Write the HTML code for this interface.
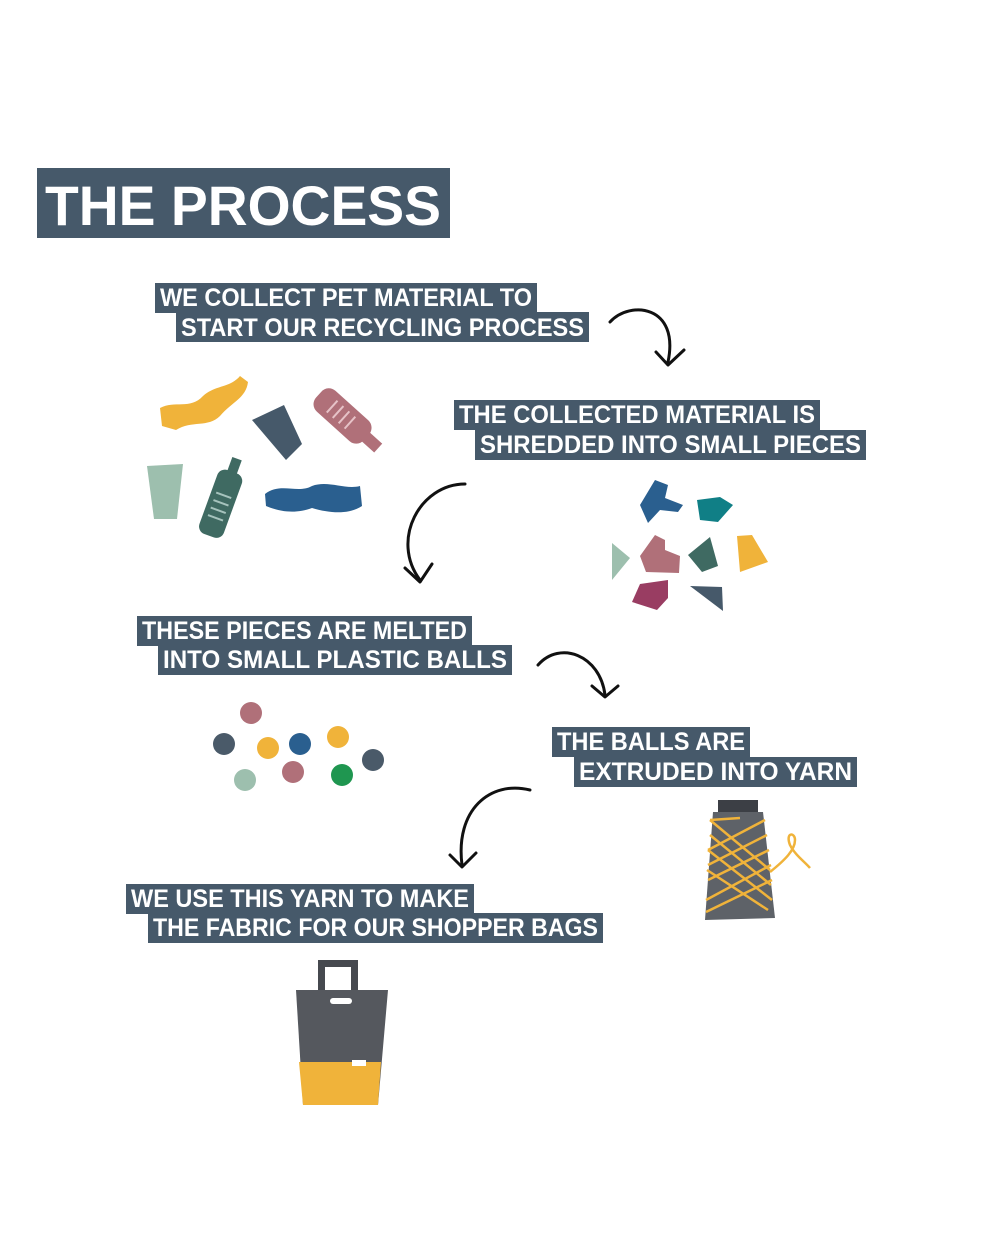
<!DOCTYPE html>
<html><head><meta charset="utf-8"><style>
html,body{margin:0;padding:0;background:#fff}
svg{display:block}
text{font-family:"Liberation Sans Narrow","Liberation Sans",sans-serif;font-weight:bold;fill:#fff}
</style></head><body>
<svg width="1000" height="1250" viewBox="0 0 1000 1250" xmlns="http://www.w3.org/2000/svg">
<g fill="#46596a">
<rect x="37" y="168" width="413" height="70"/>
<rect x="155" y="283" width="382" height="30"/><rect x="176" y="312" width="413" height="30"/>
<rect x="454" y="400" width="366" height="30"/><rect x="475" y="430" width="391" height="30"/>
<rect x="137" y="616" width="335" height="30"/><rect x="158" y="645" width="354" height="30"/>
<rect x="552" y="727" width="198" height="30"/><rect x="574" y="757" width="283" height="30"/>
<rect x="126" y="884" width="348" height="30"/><rect x="148" y="913" width="455" height="30"/>
</g>
<text x="45" y="225" font-size="56" textLength="396" lengthAdjust="spacingAndGlyphs" style="font-family:'Liberation Sans',sans-serif;font-weight:900">THE PROCESS</text>
<g font-size="25">
<text x="160" y="306" textLength="372" lengthAdjust="spacingAndGlyphs">WE COLLECT PET MATERIAL TO</text>
<text x="181" y="336" textLength="403" lengthAdjust="spacingAndGlyphs">START OUR RECYCLING PROCESS</text>
<text x="459" y="423" textLength="356" lengthAdjust="spacingAndGlyphs">THE COLLECTED MATERIAL IS</text>
<text x="480" y="453" textLength="381" lengthAdjust="spacingAndGlyphs">SHREDDED INTO SMALL PIECES</text>
<text x="142" y="639" textLength="325" lengthAdjust="spacingAndGlyphs">THESE PIECES ARE MELTED</text>
<text x="163" y="668" textLength="344" lengthAdjust="spacingAndGlyphs">INTO SMALL PLASTIC BALLS</text>
<text x="557" y="750" textLength="188" lengthAdjust="spacingAndGlyphs">THE BALLS ARE</text>
<text x="579" y="780" textLength="273" lengthAdjust="spacingAndGlyphs">EXTRUDED INTO YARN</text>
<text x="131" y="907" textLength="338" lengthAdjust="spacingAndGlyphs">WE USE THIS YARN TO MAKE</text>
<text x="153" y="936" textLength="445" lengthAdjust="spacingAndGlyphs">THE FABRIC FOR OUR SHOPPER BAGS</text>
</g>
<g fill="none" stroke="#111" stroke-width="3" stroke-linecap="round" stroke-linejoin="round">
<path d="M610 322 C630 300 680 305 668 362"/><path d="M656 352 L668 365 L684 350"/>
<path d="M465 484 C420 484 390 540 420 580"/><path d="M405 568 L420 582 L432 564"/>
<path d="M538 665 C560 640 600 655 605 695"/><path d="M592 686 L605 697 L618 686"/>
<path d="M530 790 C490 780 455 810 462 865"/><path d="M450 855 L462 867 L476 853"/>
</g>
<!-- step1 items -->
<path d="M160 408 C175 400 190 410 203 396 C215 385 230 388 240 376 L248 382 C246 398 232 402 220 416 C208 428 192 420 176 430 L162 426 Z" fill="#f0b33a"/>
<path d="M252 420 L284 405 L302 444 L286 460 Z" fill="#46596a"/>
<g transform="translate(347,420) rotate(42)"><rect x="-38" y="-14" width="64" height="28" rx="10" fill="#b07079"/><rect x="24" y="-6" width="18" height="12" fill="#b07079"/>
<g stroke="#e6c2c7" stroke-width="2"><path d="M-20 -8 V8 M-12 -8 V8 M-4 -8 V8 M4 -8 V8"/></g></g>
<path d="M147 466 L183 464 L177 519 L154 519 Z" fill="#9dbfae"/>
<g transform="translate(222,500) rotate(20)"><rect x="-13" y="-30" width="26" height="68" rx="8" fill="#3f6a62"/><rect x="-5" y="-44" width="10" height="16" fill="#3f6a62"/>
<g stroke="#a6c3bd" stroke-width="2"><path d="M-8 -5 H8 M-8 3 H8 M-8 11 H8 M-8 19 H8"/></g></g>
<path d="M265 494 C280 482 298 494 312 486 C328 480 345 490 360 486 L362 506 C350 514 332 514 312 508 C296 514 280 512 266 506 Z" fill="#2a5f8f"/>
<!-- shreds -->
<polygon points="655,480 668,485 665,498 683,505 678,512 660,510 648,523 640,505" fill="#2a5f8f"/>
<polygon points="697,500 720,497 733,505 718,522 700,520" fill="#107f86"/>
<polygon points="612,543 630,558 612,580" fill="#9dbfae"/>
<polygon points="655,535 665,540 665,550 680,556 679,573 646,572 640,556" fill="#b07079"/>
<polygon points="688,555 710,537 718,566 702,572" fill="#3f6a62"/>
<polygon points="737,536 752,535 768,562 740,572" fill="#f0b33a"/>
<polygon points="640,584 668,580 668,598 657,610 632,602" fill="#993d62"/>
<polygon points="690,586 722,587 723,611" fill="#46596a"/>
<!-- balls -->
<g>
<circle cx="251" cy="713" r="11" fill="#b07079"/><circle cx="224" cy="744" r="11" fill="#4a5a69"/>
<circle cx="268" cy="748" r="11" fill="#f0b33a"/><circle cx="300" cy="744" r="11" fill="#2a5f8f"/>
<circle cx="338" cy="737" r="11" fill="#f0b33a"/><circle cx="373" cy="760" r="11" fill="#4a5a69"/>
<circle cx="245" cy="780" r="11" fill="#9dbfae"/><circle cx="293" cy="772" r="11" fill="#b07079"/>
<circle cx="342" cy="775" r="11" fill="#1f9650"/>
</g>
<!-- spool -->
<rect x="718" y="800" width="40" height="14" fill="#3c3f45"/>
<polygon points="713,812 763,812 775,918 705,920" fill="#5e6268"/>
<g stroke="#f0b33a" stroke-width="2.5" fill="none">
<path d="M708 850 L765 820 M708 865 L767 835 M708 880 L769 850 M706 900 L771 865 M706 912 L772 880"/>
<path d="M710 820 L770 870 M710 835 L771 885 M708 850 L772 900 M710 820 L740 818 M707 870 L768 910"/>
<path d="M770 872 C785 860 795 850 795 840 C795 832 785 832 790 845 C795 855 805 862 810 868"/>
</g>
<!-- bag -->
<path d="M318 992 L318 960 L358 960 L358 992 L351 992 L351 967 L325 967 L325 992 Z" fill="#46494f"/>
<path d="M296 990 L388 990 L378 1105 L303 1105 Z" fill="#55585e"/>
<path d="M299 1062 L381 1062 L378 1105 L303 1105 Z" fill="#f0b33a"/>
<rect x="330" y="998" width="22" height="6" rx="3" fill="#fff"/>
<rect x="352" y="1060" width="14" height="6" fill="#fff"/>
</svg>
</body></html>
